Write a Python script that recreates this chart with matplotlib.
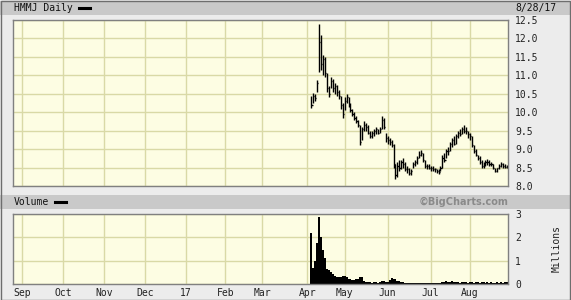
import matplotlib
matplotlib.use('Agg')
import matplotlib.pyplot as plt
import numpy as np
import pandas as pd
from matplotlib.patches import Rectangle
from matplotlib.lines import Line2D

# ---------------- data ----------------
HOLIDAYS = ['2016-09-05', '2016-11-24', '2016-12-26', '2017-01-02', '2017-01-16',
            '2017-02-20', '2017-04-14', '2017-05-29', '2017-07-04']
START, END = '2016-08-26', '2017-08-28'
PRICE_START = '2017-04-05'

high = [10.45, 10.52, 10.50, 10.88, 12.40, 12.10, 11.55, 11.50, 11.05, 10.70,
        10.95, 10.90, 10.80, 10.75, 10.60, 10.45, 10.25, 10.40, 10.50, 10.40,
        10.25, 10.10, 10.00, 9.90, 9.80, 9.65, 9.60, 9.75, 9.70, 9.65,
        9.50, 9.50, 9.55, 9.60, 9.55, 9.60, 9.90, 9.85, 9.45, 9.35,
        9.30, 9.25, 9.15, 8.60, 8.65, 8.70, 8.70, 8.75, 8.65, 8.55,
        8.50, 8.45, 8.65, 8.70, 8.80, 8.95, 8.98, 8.90, 8.70, 8.60,
        8.60, 8.55, 8.55, 8.50, 8.45, 8.45, 8.55, 8.85, 8.90, 9.00,
        9.05, 9.20, 9.30, 9.35, 9.40, 9.50, 9.55, 9.60, 9.66, 9.60,
        9.50, 9.45, 9.35, 9.10, 9.00, 8.85, 8.80, 8.70, 8.65, 8.70,
        8.72, 8.70, 8.65, 8.60, 8.50, 8.50, 8.60, 8.65, 8.62, 8.60,
        8.58]
low = [10.12, 10.25, 10.30, 10.55, 11.10, 11.15, 11.00, 10.95, 10.55, 10.40,
       10.65, 10.55, 10.50, 10.45, 10.35, 10.10, 9.85, 10.05, 10.25, 10.15,
       10.00, 9.90, 9.80, 9.70, 9.60, 9.10, 9.25, 9.50, 9.50, 9.40,
       9.30, 9.30, 9.35, 9.40, 9.40, 9.45, 9.55, 9.55, 9.20, 9.15,
       9.10, 9.05, 8.50, 8.20, 8.25, 8.40, 8.45, 8.50, 8.40, 8.35,
       8.30, 8.30, 8.50, 8.55, 8.60, 8.75, 8.80, 8.65, 8.50, 8.45,
       8.45, 8.40, 8.40, 8.38, 8.35, 8.33, 8.40, 8.50, 8.65, 8.75,
       8.85, 8.95, 9.05, 9.10, 9.15, 9.30, 9.35, 9.40, 9.45, 9.40,
       9.30, 9.25, 9.05, 8.90, 8.80, 8.70, 8.60, 8.50, 8.50, 8.55,
       8.58, 8.55, 8.55, 8.45, 8.38, 8.38, 8.45, 8.52, 8.50, 8.50,
       8.48]
close = [10.20, 10.45, 10.38, 10.80, 11.90, 11.30, 11.45, 11.05, 10.65, 10.50,
         10.85, 10.65, 10.70, 10.55, 10.45, 10.20, 9.95, 10.30, 10.40, 10.20,
         10.05, 9.95, 9.85, 9.75, 9.65, 9.20, 9.55, 9.65, 9.60, 9.45,
         9.35, 9.45, 9.50, 9.55, 9.45, 9.55, 9.80, 9.60, 9.30, 9.25,
         9.20, 9.10, 8.60, 8.30, 8.55, 8.50, 8.65, 8.60, 8.45, 8.45,
         8.35, 8.40, 8.60, 8.65, 8.75, 8.85, 8.90, 8.70, 8.55, 8.55,
         8.50, 8.50, 8.45, 8.45, 8.40, 8.38, 8.50, 8.75, 8.70, 8.95,
         8.95, 9.15, 9.25, 9.15, 9.35, 9.45, 9.40, 9.55, 9.50, 9.50,
         9.40, 9.35, 9.10, 8.95, 8.85, 8.75, 8.65, 8.55, 8.60, 8.65,
         8.65, 8.60, 8.60, 8.50, 8.42, 8.48, 8.55, 8.60, 8.55, 8.52,
         8.52]
volume_m = [2.20, 0.70, 1.00, 1.75, 2.87, 2.00, 1.45, 1.10, 0.65, 0.60,
            0.50, 0.42, 0.35, 0.30, 0.28, 0.32, 0.35, 0.33, 0.30, 0.22,
            0.20, 0.18, 0.18, 0.20, 0.22, 0.30, 0.32, 0.15, 0.10, 0.08,
            0.07, 0.06, 0.07, 0.08, 0.06, 0.07, 0.12, 0.15, 0.08, 0.10,
            0.18, 0.25, 0.22, 0.20, 0.12, 0.12, 0.10, 0.08, 0.06, 0.05,
            0.05, 0.04, 0.06, 0.05, 0.05, 0.06, 0.05, 0.04, 0.05, 0.05,
            0.04, 0.05, 0.04, 0.05, 0.05, 0.04, 0.06, 0.10, 0.08, 0.12,
            0.09, 0.10, 0.12, 0.08, 0.10, 0.07, 0.06, 0.07, 0.08, 0.07,
            0.06, 0.07, 0.07, 0.06, 0.07, 0.08, 0.06, 0.07, 0.07, 0.06,
            0.07, 0.06, 0.07, 0.05, 0.06, 0.08, 0.06, 0.07, 0.06, 0.08,
            0.07]
month_labels = ['Sep', 'Oct', 'Nov', 'Dec', '17', 'Feb', 'Mar', 'Apr',
                'May', 'Jun', 'Jul', 'Aug']
price_ticks = [8.0, 8.5, 9.0, 9.5, 10.0, 10.5, 11.0, 11.5, 12.0, 12.5]
vol_ticks = [0, 1, 2, 3]
title_text = 'HMMJ Daily'
date_text = '8/28/17'

# ---------------- layout ----------------
W, H = 571, 300
fig = plt.figure(figsize=(W / 100, H / 100), dpi=100, facecolor='#ececec')
MONO = 'DejaVu Sans Mono'
PLOT_BG = '#fdfde3'
GRID = '#d9d9a6'
SPINE = '#808080'
BAND = '#c9c9c9'


def fx(x):
    return x / W


def fy(y):
    return 1 - y / H


def rect(x, y, w, h, color, z=0):
    fig.add_artist(Rectangle((fx(x), fy(y + h)), w / W, h / H,
                             transform=fig.transFigure, facecolor=color,
                             edgecolor='none', zorder=z))


rect(0, 1, W, 14, BAND)
rect(0, 195, W, 14, BAND)
# outer border
fig.add_artist(Rectangle((0.5 / W, 0.5 / H), (W - 1.5) / W, (H - 1.5) / H,
                         transform=fig.transFigure, facecolor='none',
                         edgecolor='#6e6e6e', lw=1, zorder=5))

dates = pd.bdate_range(START, END, freq='C', holidays=HOLIDAYS)
n = len(dates)
x0 = dates.get_loc(pd.Timestamp(PRICE_START))
xs = np.arange(x0, x0 + len(close))
month_idx = [i for i in range(1, n) if dates[i].month != dates[i - 1].month]

axp = fig.add_axes([fx(13), fy(186), 495 / W, 166 / H])
axv = fig.add_axes([fx(13), fy(284), 495 / W, 70 / H])

for ax in (axp, axv):
    ax.set_facecolor(PLOT_BG)
    ax.set_xlim(-0.5, n - 0.5)
    ax.set_xticks(month_idx)
    ax.yaxis.tick_right()
    ax.grid(True, color=GRID, lw=1)
    ax.set_axisbelow(True)
    for s in ax.spines.values():
        s.set_color(SPINE)
        s.set_linewidth(1)
    ax.tick_params(length=0, labelsize=7, colors='#222222', pad=5)
    for lab in ax.get_yticklabels() + ax.get_xticklabels():
        lab.set_fontfamily(MONO)

# price bars
axp.set_ylim(8.0, 12.5)
axp.set_yticks(price_ticks)
axp.set_yticklabels([f'{v:.1f}' for v in price_ticks], fontfamily=MONO)
axp.set_xticklabels([])
axp.vlines(xs, low, high, color='black', lw=1)
axp.hlines(close, xs, xs + 0.6, color='black', lw=1)

# volume
axv.set_ylim(0, 3)
axv.set_yticks(vol_ticks)
axv.set_yticklabels([str(v) for v in vol_ticks], fontfamily=MONO)
axv.set_xticklabels(month_labels, fontfamily=MONO)
axv.tick_params(axis='x', pad=3)
axv.bar(xs, volume_m, width=1.0, color='black', linewidth=0)

# texts
fig.text(fx(14), fy(8), title_text, fontfamily=MONO, fontsize=7,
         va='center', ha='left', color='#111111')
fig.add_artist(Line2D([fx(79), fx(90)], [fy(8), fy(8)], color='black',
                      lw=2.2, transform=fig.transFigure))
fig.text(fx(557), fy(8), date_text, fontfamily=MONO, fontsize=7,
         va='center', ha='right', color='#111111')
fig.text(fx(14), fy(202), 'Volume', fontfamily=MONO, fontsize=7,
         va='center', ha='left', color='#111111')
fig.add_artist(Line2D([fx(55), fx(66)], [fy(202), fy(202)], color='black',
                      lw=2.2, transform=fig.transFigure))
fig.text(fx(508), fy(202), '\u00a9BigCharts.com', fontfamily='DejaVu Sans',
         fontweight='bold', fontsize=7, va='center', ha='right',
         color='#8a8a8a')
fig.text(fx(557), fy(249), 'Millions', fontfamily=MONO, fontsize=7,
         va='center', ha='center', rotation=90, color='#222222')

fig.savefig('out.png', dpi=100, facecolor=fig.get_facecolor())
